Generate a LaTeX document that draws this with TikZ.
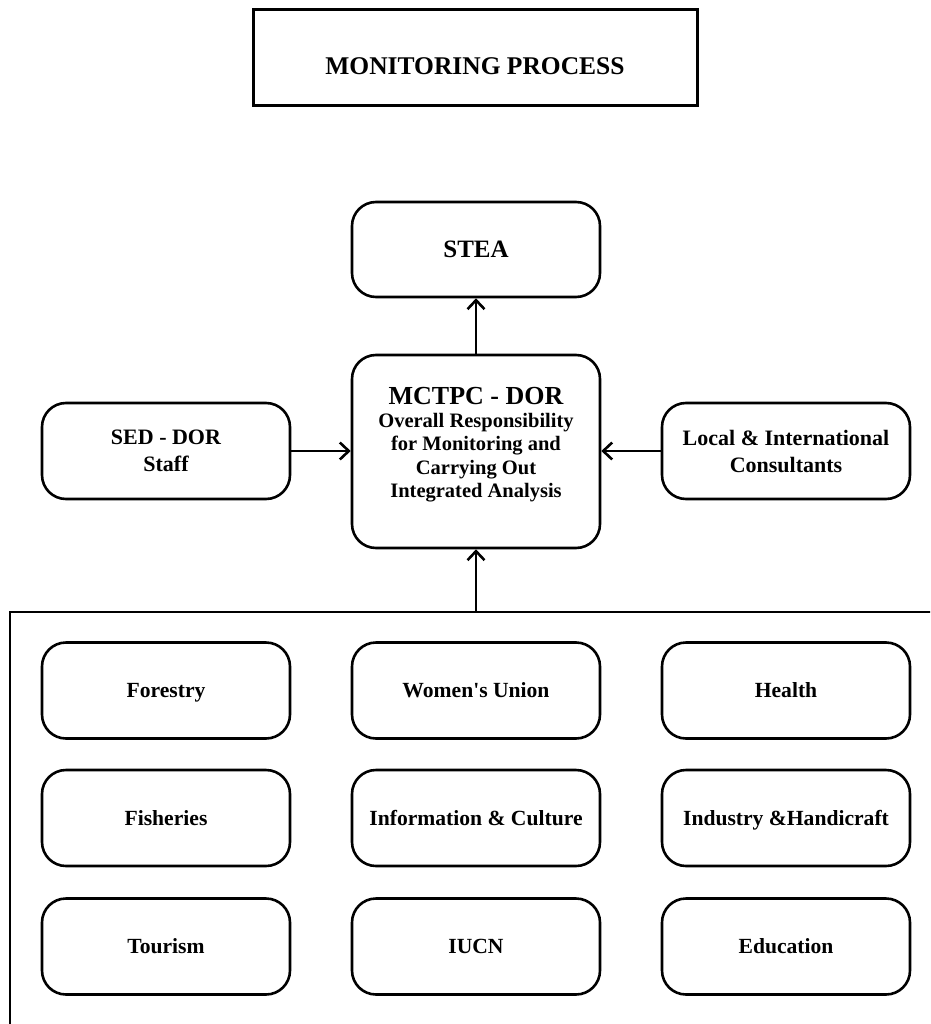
\documentclass[tikz,border=0pt]{standalone}
\usepackage{fontspec}
\setmainfont{Liberation Serif}
\usetikzlibrary{arrows.meta}
\begin{document}
\begin{tikzpicture}[x=1pt,y=-1pt,
  rbox/.style={draw, line width=2.6pt, rounded corners=24pt,
    minimum width=248pt, minimum height=96pt, inner sep=0pt,
    align=center, font=\bfseries\fontsize{22}{27}\selectfont},
  unit/.style={rbox, font=\bfseries\fontsize{21.6}{25}\selectfont,
    text height=14pt, text depth=0pt},
  link/.style={line width=2.6pt, -{Straight Barb[length=9pt,width=17pt]}},
  frame/.style={line width=2.6pt}
]
\clip (0,0) rectangle (930,1024);

% heading
\node[draw, line width=3pt, minimum width=444pt, minimum height=96pt, inner sep=0pt] (title) at (475,58) {};
\node[font=\bfseries\fontsize{25.5}{30}\selectfont, anchor=base, inner sep=0pt] (titletext) at (475,75) {MONITORING PROCESS};

% upper chain
\node[rbox, font=\bfseries\fontsize{25}{30}\selectfont, minimum height=95pt] (stea) at (476,249.5) {STEA};
\node[rbox, minimum height=193pt] (mctpc) at (476,451.5) {};
\node[align=center, inner sep=0pt, font=\bfseries\fontsize{20.5}{23.3}\selectfont] (mctpctext) at (476,444.5)
  {{\fontsize{26}{28}\selectfont MCTPC - DOR}\\
   Overall Responsibility\\ for Monitoring and\\ Carrying Out\\ Integrated Analysis};
\node[rbox] (sed) at (166,451) {SED - DOR\\ Staff};
\node[rbox] (local) at (786,451) {Local \& International\\ Consultants};

% partner institutions
\node[unit] (forestry) at (166,690.5) {Forestry};
\node[unit] (women)    at (476,690.5) {Women\textquotesingle s Union};
\node[unit] (health)   at (786,690.5) {Health};
\node[unit] (fisheries) at (166,818) {Fisheries};
\node[unit] (info)      at (476,818) {Information \& Culture};
\node[unit] (industry)  at (786,818) {Industry \&Handicraft};
\node[unit] (tourism)   at (166,946.5) {Tourism};
\node[unit] (iucn)      at (476,946.5) {IUCN};
\node[unit] (education) at (786,946.5) {Education};

% enclosing frame
\coordinate (fbl) at (10,1040);
\coordinate (ftl) at (10,612);
\coordinate (ftr) at (945,612);
\coordinate (fin) at (476,612);
\draw[frame] (fbl) -- (ftl) -- (ftr);

% connectors
\draw[link] (mctpc.north) -- (stea.south);
\draw[link] (sed.east) -- (sed.east -| mctpc.west);
\draw[link] (local.west) -- (local.west -| mctpc.east);
\draw[link] (fin) -- (mctpc.south);
\end{tikzpicture}
\end{document}
